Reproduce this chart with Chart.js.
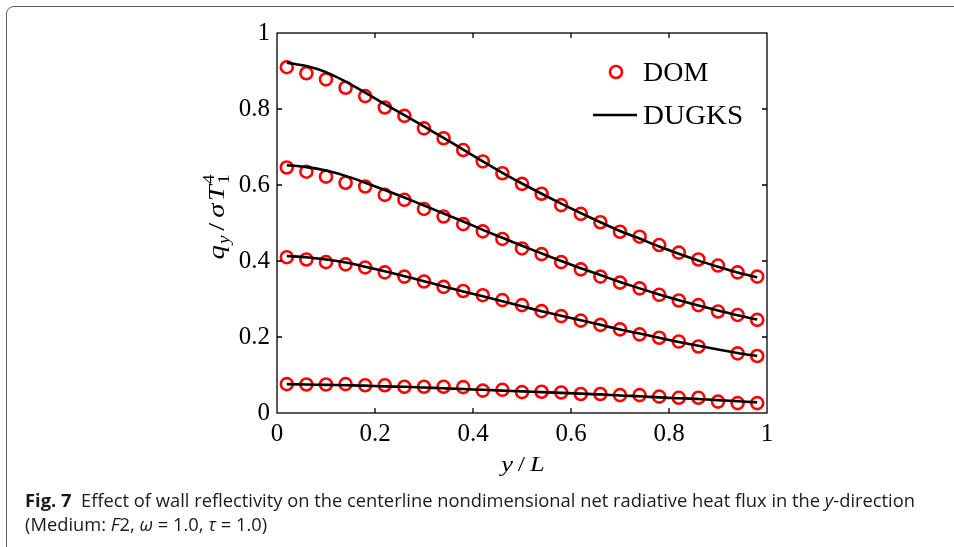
<!DOCTYPE html>
<html>
<head>
<meta charset="utf-8">
<script src="https://cdn.jsdelivr.net/npm/chart.js@4.4.1/dist/chart.umd.min.js"></script>
<style>
html, body { margin: 0; padding: 0; background: #fff; }
body { width: 954px; height: 547px; position: relative; overflow: hidden; }
#frame { position: absolute; left: 6px; top: 6px; width: 1100px; height: 1100px; border: 1.5px solid #5e5e5e; border-radius: 8px; }
#chart { position: absolute; left: 0; top: 0; }
#caption { position: absolute; left: 25px; top: 488px; font-family: "Open Sans"; font-size: 17.5px; line-height: 24px; color: #1a1a1a; white-space: nowrap; transform-origin: 0 0; }
#caption b { font-weight: 700; }
</style>
</head>
<body>
<div id="frame"></div>
<canvas id="chart" width="954" height="547"></canvas>
<div id="caption">
  <div id="cap1"><b>Fig. 7</b>&nbsp; Effect of wall reflectivity on the centerline nondimensional net radiative heat flux in the <i>y</i>-direction</div>
  <div>(Medium: <i>F</i>2, <i>ω</i> = 1.0, <i>τ</i> = 1.0)</div>
</div>
<script>
// y/L positions of the DOM samples (and DUGKS curve points)
const yPos = [0.02, 0.06, 0.10, 0.14, 0.18, 0.22, 0.26, 0.30, 0.34, 0.38, 0.42, 0.46, 0.50,
              0.54, 0.58, 0.62, 0.66, 0.70, 0.74, 0.78, 0.82, 0.86, 0.90, 0.94, 0.98];

// DOM results (circles)
const dom1 = [0.910, 0.894, 0.878, 0.856, 0.834, 0.804, 0.782, 0.749, 0.723, 0.692, 0.662, 0.631, 0.603,
              0.577, 0.547, 0.524, 0.502, 0.477, 0.464, 0.442, 0.422, 0.404, 0.388, 0.370, 0.359];
const dom2 = [0.646, 0.635, 0.622, 0.606, 0.596, 0.574, 0.561, 0.537, 0.517, 0.497, 0.478, 0.458, 0.433,
              0.418, 0.397, 0.378, 0.359, 0.343, 0.328, 0.311, 0.296, 0.284, 0.267, 0.258, 0.245];
const dom3 = [0.410, 0.404, 0.397, 0.391, 0.383, 0.370, 0.359, 0.346, 0.332, 0.321, 0.310, 0.297, 0.284,
              0.268, 0.255, 0.243, 0.232, 0.220, 0.207, 0.198, 0.188, 0.175, null, 0.157, 0.150];
const dom4 = [0.076, 0.075, 0.075, 0.076, 0.073, 0.073, 0.069, 0.069, 0.069, 0.068, 0.059, 0.061, 0.055,
              0.056, 0.054, 0.050, 0.050, 0.047, 0.047, 0.043, 0.040, 0.040, 0.030, 0.026, 0.026];

// DUGKS results (solid lines)
const dugks1 = [0.922, 0.913, 0.897, 0.872, 0.843, 0.813, 0.784, 0.754, 0.724, 0.693, 0.662, 0.632, 0.604,
                0.577, 0.551, 0.526, 0.502, 0.479, 0.459, 0.438, 0.419, 0.401, 0.385, 0.370, 0.357];
const dugks2 = [0.652, 0.647, 0.638, 0.624, 0.606, 0.587, 0.567, 0.546, 0.525, 0.504, 0.482, 0.461, 0.440,
                0.420, 0.400, 0.381, 0.363, 0.345, 0.328, 0.312, 0.297, 0.283, 0.270, 0.257, 0.246];
const dugks3 = [0.413, 0.410, 0.404, 0.396, 0.385, 0.373, 0.360, 0.347, 0.333, 0.320, 0.307, 0.294, 0.281,
                0.268, 0.256, 0.244, 0.232, 0.220, 0.209, 0.198, 0.187, 0.177, 0.167, 0.158, 0.150];
const dugks4 = [0.076, 0.075, 0.074, 0.073, 0.072, 0.070, 0.069, 0.067, 0.065, 0.063, 0.061, 0.059, 0.057,
                0.055, 0.053, 0.051, 0.049, 0.046, 0.044, 0.041, 0.039, 0.037, 0.034, 0.031, 0.028];

const innerTicks = [0.2, 0.4, 0.6, 0.8];

const toPts = vals => vals.map((v, i) => ({ x: yPos[i], y: v }));
const SERIF = '"Liberation Serif", "DejaVu Serif", serif';

const domSet = vals => ({
    label: 'DOM', data: toPts(vals), showLine: false,
    pointRadius: 6, pointHoverRadius: 6, pointBorderWidth: 2.6,
    pointBorderColor: '#ff0000', pointBackgroundColor: 'rgba(0,0,0,0)', order: 2
});
const lineSet = vals => ({
    label: 'DUGKS', data: toPts(vals), borderColor: '#000', borderWidth: 2.6,
    pointRadius: 0, cubicInterpolationMode: 'monotone', fill: false, order: 1
});

// parts: [text, font, dy, extra advance, noAdvance]
function partsWidth(ctx, parts) {
    let w = 0;
    parts.forEach(p => { ctx.font = p[1]; if (!p[4]) w += ctx.measureText(p[0]).width + (p[3] || 0); });
    return w;
}
function drawParts(ctx, parts, x, y) {
    let cx = x;
    parts.forEach(p => {
        ctx.font = p[1];
        ctx.fillText(p[0], cx, y + (p[2] || 0));
        if (!p[4]) cx += ctx.measureText(p[0]).width + (p[3] || 0);
    });
}

const decor = {
    id: 'decor',
    afterDraw(chart) {
        const { ctx, chartArea: a, scales: { x, y } } = chart;
        ctx.save();
        ctx.strokeStyle = '#000';
        ctx.lineWidth = 1.3;
        ctx.strokeRect(a.left, a.top, a.right - a.left, a.bottom - a.top);
        ctx.beginPath();
        innerTicks.forEach(v => {
            const px = x.getPixelForValue(v);
            ctx.moveTo(px, a.bottom); ctx.lineTo(px, a.bottom - 5);
            ctx.moveTo(px, a.top); ctx.lineTo(px, a.top + 5);
            const py = y.getPixelForValue(v);
            ctx.moveTo(a.left, py); ctx.lineTo(a.left + 5, py);
            ctx.moveTo(a.right, py); ctx.lineTo(a.right - 5, py);
        });
        ctx.stroke();

        // legend
        ctx.fillStyle = '#000';
        ctx.textBaseline = 'alphabetic';
        ctx.beginPath();
        ctx.strokeStyle = '#ff0000';
        ctx.lineWidth = 2.6;
        ctx.arc(616, 72, 6, 0, Math.PI * 2);
        ctx.stroke();
        ctx.beginPath();
        ctx.strokeStyle = '#000';
        ctx.moveTo(593, 115); ctx.lineTo(637, 115);
        ctx.stroke();
        ctx.font = '28px ' + SERIF;
        ctx.fillText('DOM', 643, 81);
        ctx.save();
        ctx.translate(643, 124);
        ctx.scale(1.04, 1);
        ctx.fillText('DUGKS', 0, 0);
        ctx.restore();

        // x title
        const it = 'italic 22px ' + SERIF, up = '22px ' + SERIF;
        const xParts = [['y', it, 0, 4], ['/', up, 0, 4], ['L', it]];
        const xw = partsWidth(ctx, xParts) * 1.2;
        ctx.save();
        ctx.translate(523 - xw / 2, 471);
        ctx.scale(1.2, 1);
        drawParts(ctx, xParts, 0, 0);
        ctx.restore();

        // y title, rotated
        const it2 = 'italic 24px ' + SERIF, up2 = '24px ' + SERIF;
        const sm = 'italic 16px ' + SERIF, smu = '16px ' + SERIF;
        const yParts = [['q', it2, 0, 1], ['y', sm, 5, 4], ['/', up2, 0, 4], ['σ', it2, 0, 2], ['T', it2, 0, 1],
                        ['4', smu, -10, 0, true], ['1', smu, 5]];
        const yw = partsWidth(ctx, yParts) * 1.2;
        ctx.translate(224, 217);
        ctx.rotate(-Math.PI / 2);
        ctx.translate(-yw / 2, 0);
        ctx.scale(1.2, 1);
        drawParts(ctx, yParts, 0, 0);
        ctx.restore();
    }
};

const tickLabel = v => (Math.abs(v) < 1e-9 || Math.abs(v - 1) < 1e-9) ? String(Math.round(v)) : v.toFixed(1);

new Chart(document.getElementById('chart'), {
    type: 'line',
    data: {
        datasets: [
            lineSet(dugks1), lineSet(dugks2), lineSet(dugks3), lineSet(dugks4),
            domSet(dom1), domSet(dom2), domSet(dom3), domSet(dom4)
        ]
    },
    options: {
        responsive: false,
        animation: false,
        devicePixelRatio: 1,
        layout: { padding: { left: 0, right: 187, top: 33, bottom: 94 } },
        plugins: { legend: { display: false }, tooltip: { enabled: false } },
        scales: {
            x: {
                type: 'linear', min: 0, max: 1,
                afterFit: s => { s.height = 40; },
                grid: { display: false, drawTicks: false },
                border: { display: false },
                ticks: {
                    stepSize: 0.2, padding: 6, color: '#000', maxRotation: 0,
                    font: { family: SERIF, size: 25 },
                    callback: tickLabel
                }
            },
            y: {
                type: 'linear', min: 0, max: 1,
                afterFit: s => { s.width = 277; },
                grid: { display: false, drawTicks: false },
                border: { display: false },
                ticks: {
                    stepSize: 0.2, padding: 7, color: '#000',
                    font: { family: SERIF, size: 25 },
                    callback: tickLabel
                }
            }
        }
    },
    plugins: [decor]
});

// fit caption to the reference width
const cap = document.getElementById('caption');
const w1 = document.getElementById('cap1').getBoundingClientRect().width;
cap.style.transform = 'scaleX(' + (890 / w1) + ')';
</script>
</body>
</html>
